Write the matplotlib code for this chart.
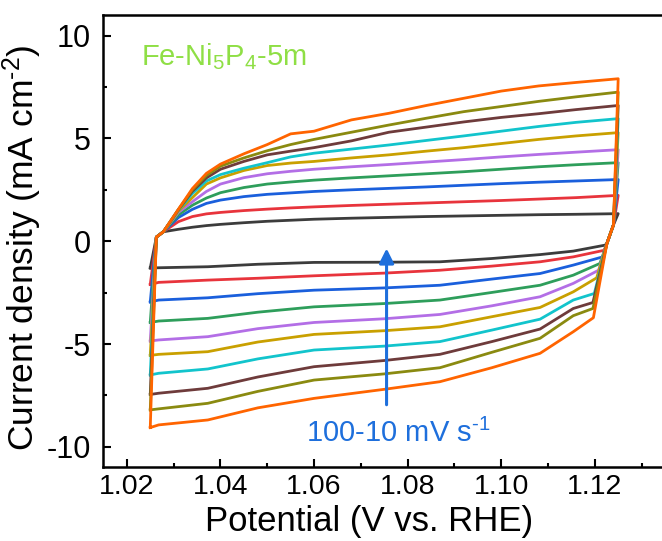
import matplotlib
matplotlib.use('Agg')
import matplotlib.pyplot as plt
from matplotlib.ticker import MultipleLocator

plt.rcParams['font.family'] = ['Liberation Sans', 'DejaVu Sans']
plt.rcParams['mathtext.fontset'] = 'custom'
plt.rcParams['mathtext.rm'] = 'Liberation Sans'
plt.rcParams['mathtext.it'] = 'Liberation Sans:italic'
plt.rcParams['mathtext.bf'] = 'Liberation Sans:bold'
plt.rcParams['axes.unicode_minus'] = False

# scan rates, drawn from 10 to 100 mV/s so 100 ends up on top
rates = [10, 20, 30, 40, 50, 60, 70, 80, 90, 100]
colors = ['#3c3c3c', '#e8343c', '#1a5fdc', '#2e9e5b', '#b36ee6',
          '#c9a000', '#12c4cc', '#6e3b3b', '#8a8a10', '#ff6400']

# forward (anodic) sweep potentials, V vs RHE
E_up = [1.0250, 1.0263, 1.0278, 1.031, 1.034, 1.037, 1.040, 1.045, 1.050,
        1.055, 1.060, 1.068, 1.076, 1.084, 1.092, 1.100, 1.108, 1.116, 1.1250]
j_up = {
    10: [-1.30, 0.2, 0.46, 0.58, 0.68, 0.76, 0.82, 0.90, 0.97, 1.02, 1.07,
         1.12, 1.16, 1.20, 1.23, 1.26, 1.29, 1.31, 1.34],
    20: [-2.10, 0.2, 0.46, 0.95, 1.20, 1.33, 1.40, 1.49, 1.56, 1.62, 1.67,
         1.74, 1.80, 1.86, 1.92, 1.98, 2.05, 2.12, 2.23],
    30: [-2.95, 0.2, 0.46, 1.15, 1.55, 1.84, 2.00, 2.17, 2.28, 2.35, 2.42,
         2.50, 2.57, 2.64, 2.72, 2.80, 2.87, 2.93, 3.00],
    40: [-3.95, 0.2, 0.46, 1.28, 1.75, 2.10, 2.36, 2.61, 2.78, 2.88, 2.97,
         3.08, 3.18, 3.28, 3.38, 3.50, 3.62, 3.72, 3.82],
    50: [-4.85, 0.2, 0.46, 1.40, 1.92, 2.42, 2.78, 3.09, 3.28, 3.40, 3.50,
         3.62, 3.73, 3.85, 3.97, 4.10, 4.22, 4.33, 4.45],
    60: [-5.55, 0.2, 0.46, 1.46, 2.12, 2.78, 3.08, 3.44, 3.68, 3.80, 3.88,
         4.05, 4.20, 4.38, 4.55, 4.75, 4.95, 5.12, 5.28],
    70: [-6.50, 0.2, 0.46, 1.50, 2.32, 2.93, 3.24, 3.55, 3.82, 4.10, 4.28,
         4.48, 4.68, 4.90, 5.12, 5.35, 5.58, 5.78, 5.96],
    80: [-7.45, 0.2, 0.46, 1.53, 2.43, 3.08, 3.50, 3.88, 4.20, 4.38, 4.55,
         4.88, 5.30, 5.55, 5.80, 6.02, 6.20, 6.40, 6.60],
    90: [-8.20, 0.2, 0.46, 1.54, 2.50, 3.20, 3.65, 4.05, 4.40, 4.70, 4.95,
         5.30, 5.65, 5.98, 6.30, 6.55, 6.80, 7.02, 7.25],
    100: [-9.06, 0.2, 0.46, 1.55, 2.56, 3.30, 3.75, 4.25, 4.70, 5.22, 5.35,
          5.90, 6.22, 6.60, 6.95, 7.30, 7.55, 7.72, 7.90],
}

# turning point at the positive end, then the knee of each reverse sweep
E_turn = [1.1240, 1.1226]
j_turn = [0.8, -0.1]
knee_E = [1.1222, 1.1220, 1.1217, 1.1211, 1.1208, 1.1204, 1.1199, 1.1196,
          1.1196, 1.1197]
knee_j = [-0.19, -0.44, -0.76, -1.08, -1.41, -1.78, -2.54, -2.98, -3.27, -3.72]

# reverse (cathodic) sweep potentials
E_dn = [1.1154, 1.1083, 1.098, 1.0869, 1.075, 1.060, 1.048, 1.0373, 1.0268,
        1.0250]
j_dn = {
    10: [-0.48, -0.65, -0.84, -1.00, -1.02, -1.03, -1.12, -1.24, -1.29, -1.30],
    20: [-0.76, -1.00, -1.21, -1.41, -1.55, -1.68, -1.80, -1.89, -2.00, -2.10],
    30: [-1.16, -1.57, -1.84, -2.14, -2.27, -2.38, -2.55, -2.75, -2.86, -2.95],
    40: [-1.65, -2.14, -2.49, -2.86, -3.03, -3.19, -3.45, -3.75, -3.88, -3.95],
    50: [-2.05, -2.70, -3.14, -3.56, -3.77, -3.95, -4.25, -4.64, -4.80, -4.85],
    60: [-2.46, -3.22, -3.67, -4.16, -4.35, -4.53, -4.90, -5.37, -5.50, -5.55],
    70: [-2.86, -3.79, -4.32, -4.88, -5.10, -5.29, -5.72, -6.21, -6.42, -6.50],
    80: [-3.27, -4.27, -4.88, -5.50, -5.80, -6.10, -6.60, -7.15, -7.39, -7.45],
    90: [-3.62, -4.72, -5.40, -6.15, -6.45, -6.75, -7.30, -7.88, -8.15, -8.20],
    100: [-4.40, -5.45, -6.15, -6.83, -7.20, -7.64, -8.10, -8.69, -8.93, -9.06],
}

fig = plt.figure(figsize=(6.62, 5.41), dpi=100)
ax = fig.add_axes([0.1563, 0.1359, 0.8482, 0.8364])

for i, r in enumerate(rates):
    E = E_up + E_turn + [knee_E[i]] + E_dn
    j = j_up[r] + j_turn + [knee_j[i]] + j_dn[r]
    ax.plot(E, j, color=colors[i], lw=2.0, solid_joinstyle='round')

ax.set_xlim(1.015, 1.135)
ax.set_ylim(-11, 11)
ax.xaxis.set_major_locator(MultipleLocator(0.02))
ax.xaxis.set_minor_locator(MultipleLocator(0.01))
ax.yaxis.set_major_locator(MultipleLocator(5))
ax.yaxis.set_minor_locator(MultipleLocator(2.5))
ax.xaxis.set_major_formatter(plt.FuncFormatter(lambda v, p: '%.2f' % v))
ax.tick_params(which='both', direction='in', width=1.5)
ax.tick_params(which='major', length=6)
ax.tick_params(which='minor', length=3)
ax.tick_params(axis='x', labelsize=20.5, pad=5)
ax.tick_params(axis='y', labelsize=22, pad=9)
for s in ax.spines.values():
    s.set_linewidth(1.8)

ax.set_xlabel('Potential (V vs. RHE)', fontsize=25)
ax.xaxis.set_label_coords(0.473, -0.083)
ax.set_ylabel('Current density (mA cm$^{\\text{-2}}$)', fontsize=25.5)
ax.yaxis.set_label_coords(-0.106, 0.485)

ax.text(1.0231, 8.54, 'Fe-Ni$_5$P$_4$-5m', color='#8fdf45', fontsize=21,
        ha='left', va='baseline')
ax.annotate('', xy=(1.0755, -0.35), xytext=(1.0755, -7.95),
            arrowprops=dict(arrowstyle='-|>', color='#1e6fdc', lw=2.2,
                            mutation_scale=22, shrinkA=0, shrinkB=0))
ax.text(1.0583, -9.74, '100-10 mV s$^{\\text{-1}}$', color='#1e6fdc',
        fontsize=21, ha='left', va='baseline')

fig.savefig('out.png', dpi=100)
